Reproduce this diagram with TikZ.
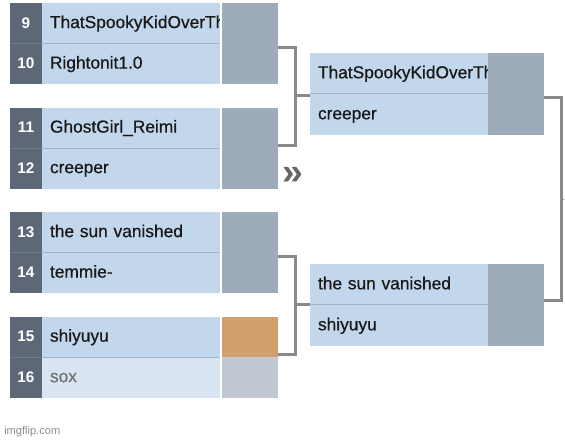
\documentclass[tikz,border=0pt]{standalone}
\usepackage{fontspec}
\setmainfont{Liberation Sans}
\newfontfamily\whoface{Liberation Sans}[FakeBold=0.6]
\usetikzlibrary{matrix,positioning,calc}

\definecolor{seedbg}{RGB}{92,104,118}
\definecolor{whobg}{RGB}{194,214,236}
\definecolor{byebg}{RGB}{216,228,241}
\definecolor{scorebg}{RGB}{158,171,185}
\definecolor{byescore}{RGB}{193,200,210}
\definecolor{winscore}{RGB}{209,160,108}
\definecolor{linkgray}{RGB}{138,138,138}
\definecolor{seedline}{RGB}{112,124,138}
\definecolor{wholine}{RGB}{164,181,201}

\newcommand\seedfont{\fontsize{11.5}{12}\selectfont\bfseries}
\newcommand\whofont{\whoface\fontsize{13}{14}\selectfont\hyphenpenalty=10000}

\begin{document}
\begin{tikzpicture}[x=0.75pt, y=-0.75pt,
    pair/.style={matrix of nodes, inner sep=0pt, outer sep=0pt, row sep=0pt, column sep=0pt, nodes in empty cells,
      nodes={inner sep=0pt, anchor=center, minimum height=30.4pt}},
    seed/.style={fill=seedbg, text=white, font=\seedfont, minimum width=24pt, text height=10pt, text depth=2.8pt},
    who/.style={fill=whobg, text=black!90, font=\whofont, text width=121.5pt, inner xsep=6pt, align=left, text height=10pt, text depth=2.8pt},
    bye/.style={who, fill=byebg, text=black!55},
    score/.style={fill=scorebg, minimum width=42pt},
    link/.style={draw=linkgray, line width=2.25pt}
  ]

\fill[white] (0,0) rectangle (565,441);
\useasboundingbox (0,0) rectangle (565,441);

% First round
\matrix (p1) [pair, anchor=north west] at (10,3) {
|[seed]| 9  & |[who]| ThatSpookyKidOverTh &[1.5pt] |[score]| \\
|[seed]| 10 & |[who]| Rightonit1.0 &[1.5pt] |[score]| \\
};
\matrix (p2) [pair, below=17.6pt of p1] {
|[seed]| 11 & |[who]| GhostGirl\_Reimi &[1.5pt] |[score]| \\
|[seed]| 12 & |[who]| creeper &[1.5pt] |[score]| \\
};
\matrix (p3) [pair, below=17.6pt of p2] {
|[seed]| 13 & |[who]| the sun vanished &[1.5pt] |[score]| \\
|[seed]| 14 & |[who]| temmie- &[1.5pt] |[score]| \\
};
\matrix (p4) [pair, below=17.6pt of p3] {
|[seed]| 15 & |[who]| shiyuyu &[1.5pt] |[score, fill=winscore]| \\
|[seed]| 16 & |[bye]| sox &[1.5pt] |[score, fill=byescore]| \\
};

% Second round
\matrix (q1) [pair, nodes={minimum height=30.75pt}, anchor=north west] at (310,53) {
|[who]| ThatSpookyKidOverTh & |[score]| \\
|[who]| creeper & |[score]| \\
};
\matrix (q2) [pair, nodes={minimum height=30.75pt}, below=96.75pt of q1] {
|[who]| the sun vanished & |[score]| \\
|[who]| shiyuyu & |[score]| \\
};

% Row separators and gap before the score column
\foreach \p in {p1,p2,p3,p4} {
  \draw[seedline, line width=0.75pt] (\p-2-1.north west) -- (\p-2-1.north east);
  \draw[wholine, line width=0.75pt] (\p-2-2.north west) -- (\p-2-2.north east);
  \fill[white] (\p-1-2.north east) rectangle (\p-2-3.south west);
}
\foreach \q in {q1,q2}
  \draw[wholine, line width=0.75pt] (\q-2-1.north west) -- (\q-2-1.north east);

% Brackets
\coordinate (j1) at ($(p1-1-3.south east)!0.5!(p2-1-3.south east)+(17,0)$);
\coordinate (j2) at ($(p3-1-3.south east)!0.5!(p4-1-3.south east)+(17,0)$);
\coordinate (j3) at ($(q1-1-2.south east)!0.5!(q2-1-2.south east)+(17,0)$);

\draw[link] ($(p1-1-3.south east)+(0,4)$) -| (j1) |- ($(p2-1-3.south east)+(0,-3)$);
\draw[link] (j1) -- (j1 -| q1-1-1.west);
\draw[link] ($(p3-1-3.south east)+(0,4)$) -| (j2) |- ($(p4-1-3.south east)+(0,-3)$);
\draw[link] (j2) -- (j2 -| q2-1-1.west);
\draw[link] ($(q1-1-2.south east)+(0,4)$) -| (j3) |- ($(q2-1-2.south east)+(0,-4)$);
\draw[link, line width=1pt] (j3) -- ++(3,0);

% Next page marker and watermark
\node[inner sep=0pt, text=black!60, font=\fontsize{28}{28}\selectfont\bfseries] (more) at (293,175.5) {»};
\node[inner sep=0pt, anchor=west, text=black!45, font=\fontsize{8.3}{9}\selectfont] (wm) at (4,432) {imgflip.com};

\end{tikzpicture}
\end{document}
